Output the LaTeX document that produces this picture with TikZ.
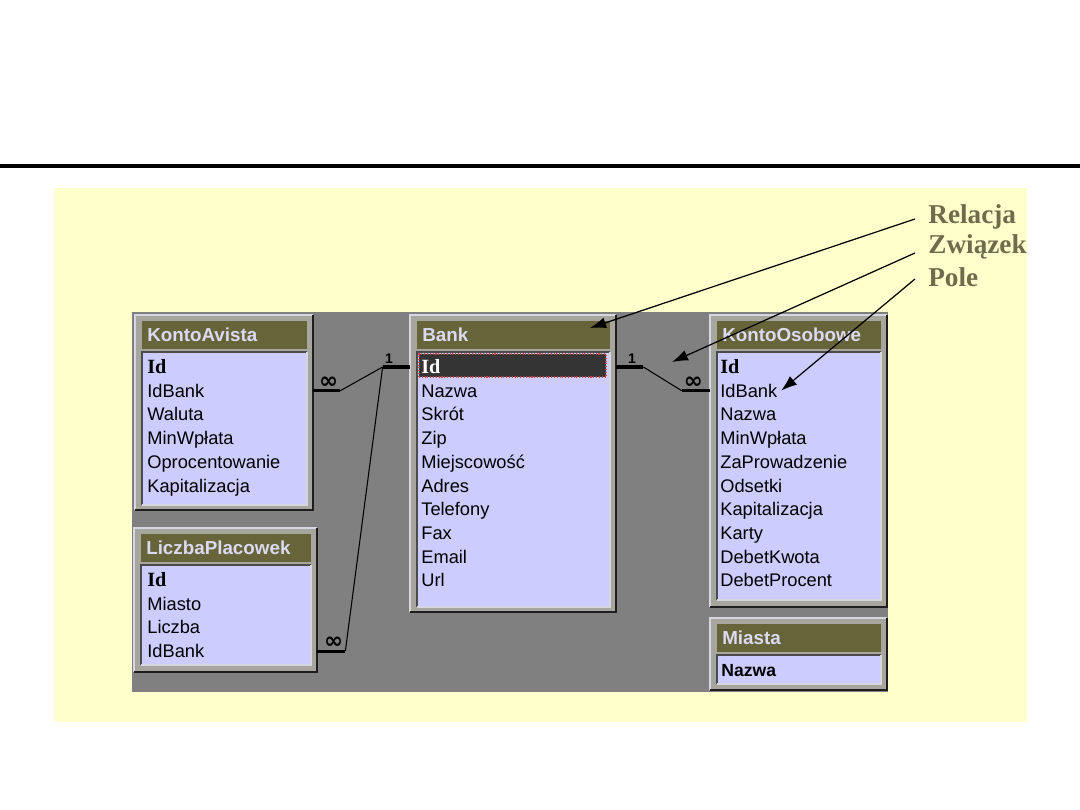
\documentclass[tikz,border=0pt]{standalone}
\usepackage{fontspec}
\setmainfont{Liberation Serif}
\setsansfont{Liberation Sans}
\newfontfamily\symfont{DejaVu Sans}
\usepackage{tikz}
\usetikzlibrary{arrows.meta,positioning,fit,calc}
\definecolor{paneyellow}{RGB}{255,255,204}
\definecolor{panegray}{RGB}{128,128,128}
\definecolor{framegray}{RGB}{166,166,158}
\definecolor{bevlight}{RGB}{214,214,224}
\definecolor{bevdark}{RGB}{30,30,30}
\definecolor{titleolive}{RGB}{104,100,58}
\definecolor{titletxt}{RGB}{218,218,242}
\definecolor{lavender}{RGB}{204,204,255}
\definecolor{hlgray}{RGB}{52,52,52}
\definecolor{hlred}{RGB}{200,70,70}
\definecolor{labelolive}{RGB}{110,108,76}
\tikzset{
  tabframe/.style={fill=framegray, inner sep=0pt, draw=none},
  edgeup/.style={draw=bevlight, line width=1.1pt},
  edgedown/.style={draw=bevdark, line width=1.1pt},
  listup/.style={draw=bevdark!80, line width=1.1pt},
  listdown/.style={draw=bevlight, line width=1.1pt},
  tabtitle/.style={fill=titleolive, inner sep=0pt},
  titletext/.style={font=\sffamily\bfseries\fontsize{10.7}{12}\selectfont, text=titletxt,
    inner sep=0pt, anchor=west},
  tablist/.style={fill=lavender, inner sep=0pt},
  field/.style={font=\sffamily\fontsize{10.4}{12}\selectfont, inner sep=0pt, anchor=west,
    text height=7.5pt, text depth=0pt},
  keyfield/.style={font=\rmfamily\bfseries\fontsize{11.5}{12}\selectfont, inner sep=0pt,
    anchor=west, text height=7.5pt, text depth=0pt},
  idhl/.style={fill=hlgray, draw=hlred, densely dotted, line width=0.6pt, inner sep=0pt},
  relthick/.style={line width=1.8pt},
  relthin/.style={line width=0.6pt},
  card/.style={font=\sffamily\bfseries\fontsize{8}{8}\selectfont, inner sep=1pt},
  many/.style={font=\symfont\bfseries\fontsize{13}{13}\selectfont, inner sep=0pt},
  pointer/.style={line width=0.7pt, -{Latex[length=3.2mm,width=2.2mm]}},
  lbl/.style={font=\rmfamily\bfseries\fontsize{15.5}{18}\selectfont, text=labelolive,
    anchor=west, inner sep=0pt}
}
% tabela: nazwa, x1, y1, x2, y2, dol tytulu, dol listy, tytul
\newcommand{\tabela}[8]{%
  \node[tabframe, fit={(#2,#3) (#4,#5)}] (#1) {};
  \draw[edgeup] (#1.south west) |- (#1.north east);
  \draw[edgedown] (#1.north east) |- (#1.south west);
  \node[tabtitle, fit={(#2+7,#3+6) (#4-6,#6)}] (#1-t) {};
  \node[titletext] (#1-n) at ([xshift=3pt]#1-t.west) {#8};
  \node[tablist, fit={(#2+7,#6+3) (#4-6,#7)}] (#1-l) {};
  \draw[listup] (#1-l.south west) |- (#1-l.north east);
  \draw[listdown] (#1-l.north east) |- (#1-l.south west);
}

\begin{document}
\begin{tikzpicture}[x=0.02cm, y=-0.02cm]
  \useasboundingbox (0,0) rectangle (1080,810);
  \fill[white] (0,0) rectangle (1080,810);
  \draw[line width=2.3pt] (0,166) -- (1080,166);
  \fill[paneyellow] (55,188) rectangle (1027,722);
  \fill[panegray] (132,312) rectangle (888,692);

  % tabele
  \tabela{ka}{135}{315}{313}{510}{349}{505}{KontoAvista}
  \tabela{bank}{410}{315}{616}{612}{349}{607}{Bank}
  \tabela{ko}{710}{315}{887}{607}{349}{600}{KontoOsobowe}
  \tabela{lp}{134}{528}{317}{672}{562}{665}{LiczbaPlacowek}
  \tabela{mi}{710}{618}{887}{690}{652}{684}{Miasta}

  % pola
  \node[keyfield] (ka-1) at (147,367) {Id};
  \foreach \f [count=\i from 2] in {IdBank,Waluta,MinWpłata,Oprocentowanie,Kapitalizacja}
    \node[field] (ka-\i) at (147,{343.3+23.7*\i}) {\f};

  \node[idhl, fit={(419,354) (606,377)}] (bank-hl) {};
  \node[keyfield, text=white] (bank-1) at (421,367) {Id};
  \foreach \f [count=\i from 2] in {Nazwa,Skrót,Zip,Miejscowość,Adres,Telefony,Fax,Email,Url}
    \node[field] (bank-\i) at (421,{343.3+23.7*\i}) {\f};

  \node[keyfield] (ko-1) at (720,367) {Id};
  \foreach \f [count=\i from 2] in {IdBank,Nazwa,MinWpłata,ZaProwadzenie,Odsetki,
      Kapitalizacja,Karty,DebetKwota,DebetProcent}
    \node[field] (ko-\i) at (720,{343.3+23.7*\i}) {\f};

  \node[keyfield] (lp-1) at (147,580) {Id};
  \foreach \f [count=\i from 2] in {Miasto,Liczba,IdBank}
    \node[field] (lp-\i) at (147,{556.3+23.7*\i}) {\f};

  \node[field, font=\sffamily\bfseries\fontsize{10}{12}\selectfont] (mi-1) at (721,670) {Nazwa};

  % relacje
  \draw[relthick] (bank.west |- bank-1) -- ++(-27,0) coordinate (b1);
  \node[card, above left=1pt and -7pt of b1] (c1) {1};
  \draw[relthick] (ka.east |- ka-2) -- ++(27,0) coordinate (ka1);
  \node[many, above left=1pt and 1pt of ka1] (m1) {∞};
  \draw[relthick] (lp.east |- lp-4) -- ++(28,0) coordinate (lp1);
  \node[many, above left=1pt and 1pt of lp1] (m2) {∞};
  \draw[relthin] (b1) -- (ka1);
  \draw[relthin] (b1) -- (lp1);
  \draw[relthick] (bank.east |- bank-1) -- ++(27,0) coordinate (b2);
  \node[card, above left=1pt and 3pt of b2] (c2) {1};
  \draw[relthick] (ko.west |- ko-2) -- ++(-28,0) coordinate (ko1);
  \node[many, above right=1pt and 1pt of ko1] (m3) {∞};
  \draw[relthin] (b2) -- (ko1);

  % objasnienia
  \node[lbl] (rel) at (928,217) {Relacja};
  \node[lbl] (zw) at (928,247) {Związek};
  \node[lbl] (pole) at (928,277) {Pole};
  \coordinate (relTip) at (590,328);
  \coordinate (zwTip) at (672,362);
  \draw[pointer] ($(rel.west)+(-13,2)$) -- (relTip);
  \draw[pointer] ($(zw.west)+(-13,6)$) -- (zwTip);
  \draw[pointer] ($(pole.west)+(-13,2)$) -- ([xshift=2pt]ko-2.east);
\end{tikzpicture}
\end{document}
